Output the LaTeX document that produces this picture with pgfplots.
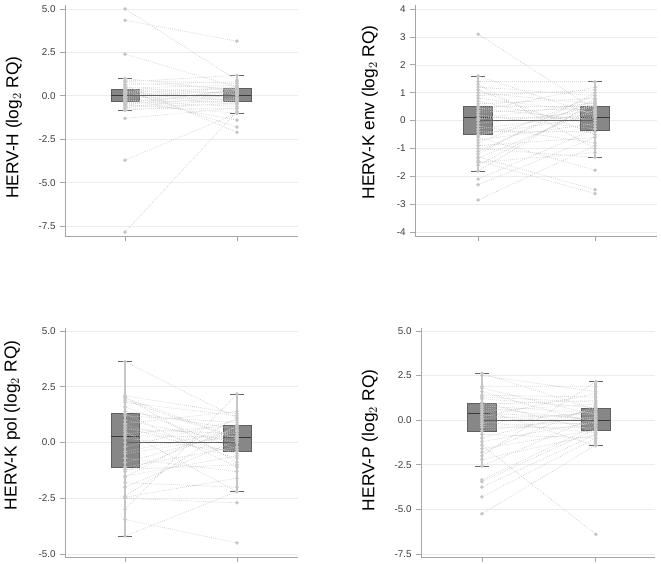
\documentclass[border=0pt]{standalone}
\usepackage{fontspec}
\setmainfont{Liberation Sans}
\usepackage{pgfplots}
\pgfplotsset{compat=1.18}
\usepgfplotslibrary{statistics}
\definecolor{boxfill}{HTML}{878787}
\definecolor{boxedge}{HTML}{5F5F5F}
\definecolor{medcol}{HTML}{3A3A3A}
\definecolor{capcol}{HTML}{666666}
\definecolor{whisk}{HTML}{C6C6C6}
\definecolor{ptcol}{HTML}{C2C2C2}
\definecolor{lncol}{HTML}{C8C8C8}
\definecolor{gridcol}{HTML}{ECECEC}
\definecolor{axcol}{HTML}{A6A6A6}
\definecolor{tickcol}{HTML}{3C3C3C}
\pgfplotsset{
  hervaxis/.style={
    scale only axis,
    axis x line*=bottom, axis y line*=left,
    axis line style={draw=axcol, line width=0.6pt},
    xtick={0,1}, xticklabels={,,},
    tick style={draw=axcol, line width=0.6pt},
    major tick length=3.5pt, tick align=outside,
    ymajorgrids, grid style={draw=gridcol, line width=0.5pt},
    yticklabel style={font=\fontsize{7.4}{8}\selectfont, text=tickcol},
    ylabel style={font=\fontsize{13}{15}\selectfont, anchor=center},
    /pgf/number format/assume math mode=true,
    clip=false,
    boxplot/draw direction=y,
    boxplot/every box/.style={fill=boxfill, draw=boxedge, line width=0.5pt},
    boxplot/every whisker/.style={draw=capcol, line width=0.6pt},
    boxplot/every median/.style={draw=medcol, line width=0.7pt},
  },
  onedec/.style={yticklabel style={/pgf/number format/.cd, fixed, fixed zerofill, precision=1}},
  wline/.style={draw=whisk, line width=2pt},
  pairs/.style={draw=lncol, densely dotted, line width=0.5pt, unbounded coords=jump,
    mark=*, mark size=1.1pt, mark options={solid, fill=ptcol, draw=none}},
  zline/.style={draw=medcol!80, line width=0.5pt},
}
\begin{document}
\begin{tikzpicture}
\useasboundingbox (0,0) rectangle (495.75pt,423pt);
% ---------------- Panel 1: HERV-H
\begin{axis}[hervaxis, onedec, at={(48.75pt,246pt)}, anchor=south west,
  width=174.75pt, height=172.9pt, xmin=-0.536, xmax=1.545, ymin=-8.07, ymax=5.2,
  ytick={-7.5,-5,-2.5,0,2.5,5},
  ylabel={HERV-H (log$_2$ RQ)}, ylabel style={at={(axis description cs:-0.219,0.47)}}]
\addplot[boxplot prepared={draw position=0, lower whisker=-0.84, lower quartile=-0.3, median=0, upper quartile=0.37, upper whisker=1.0, box extend=0.25, whisker extend=0.12}] coordinates {};
\addplot[boxplot prepared={draw position=1, lower whisker=-1.0, lower quartile=-0.3, median=0, upper quartile=0.43, upper whisker=1.18, box extend=0.25, whisker extend=0.12}] coordinates {};
\addplot[wline] coordinates {(0,-0.84) (0,1.0)};
\addplot[wline] coordinates {(1,-1.0) (1,1.18)};
\addplot[pairs] coordinates {
(0,5.0) (1,0.9) (0,nan)
(0,4.35) (1,3.15) (0,nan)
(0,2.4) (1,0.5) (0,nan)
(0,-1.3) (1,-0.7) (0,nan)
(0,-3.7) (1,-1.0) (0,nan)
(0,-7.85) (1,-0.9) (0,nan)
(0,0.3) (1,-1.8) (0,nan)
(0,0.6) (1,-2.1) (0,nan)
(0,-0.2) (1,-1.4) (0,nan)
(0,1.0) (1,0.3) (0,nan)
(0,-0.84) (1,-0.4) (0,nan)
(0,0.8) (1,1.18) (0,nan)
(0,-0.5) (1,-1.0) (0,nan)
(0,0.9) (1,0.7) (0,nan)
(0,0.75) (1,0.4) (0,nan)
(0,0.65) (1,0.8) (0,nan)
(0,0.5) (1,0.1) (0,nan)
(0,0.45) (1,0.6) (0,nan)
(0,0.4) (1,-0.3) (0,nan)
(0,0.35) (1,0.35) (0,nan)
(0,0.25) (1,0.2) (0,nan)
(0,0.2) (1,-0.1) (0,nan)
(0,0.15) (1,0.5) (0,nan)
(0,0.1) (1,0.0) (0,nan)
(0,0.05) (1,-0.5) (0,nan)
(0,0.0) (1,0.25) (0,nan)
(0,-0.05) (1,0.45) (0,nan)
(0,-0.1) (1,-0.2) (0,nan)
(0,-0.15) (1,0.15) (0,nan)
(0,-0.25) (1,-0.35) (0,nan)
(0,-0.3) (1,0.05) (0,nan)
(0,-0.35) (1,-0.6) (0,nan)
(0,-0.4) (1,0.3) (0,nan)
(0,-0.45) (1,-0.15) (0,nan)
(0,-0.55) (1,0.4) (0,nan)
(0,-0.6) (1,-0.25) (0,nan)
(0,-0.7) (1,0.1) (0,nan)
(0,-0.75) (1,-0.75) (0,nan)
(0,-0.65) (1,-0.45) (0,nan)
};
\addplot[zline] coordinates {(0,0) (1,0)};
\end{axis}
% ---------------- Panel 2: HERV-K env
\begin{axis}[hervaxis, at={(311.25pt,246pt)}, anchor=south west,
  width=181.5pt, height=173.3pt, xmin=-0.54, xmax=1.53, ymin=-4.14, ymax=4.15,
  ytick={-4,-3,-2,-1,0,1,2,3,4},
  ylabel={HERV-K env (log$_2$ RQ)}, ylabel style={at={(axis description cs:-0.186,0.535)}}]
\addplot[boxplot prepared={draw position=0, lower whisker=-1.81, lower quartile=-0.5, median=0.11, upper quartile=0.52, upper whisker=1.6, box extend=0.25, whisker extend=0.12}] coordinates {};
\addplot[boxplot prepared={draw position=1, lower whisker=-1.32, lower quartile=-0.34, median=0.11, upper quartile=0.5, upper whisker=1.39, box extend=0.25, whisker extend=0.12}] coordinates {};
\addplot[wline] coordinates {(0,-1.81) (0,1.6)};
\addplot[wline] coordinates {(1,-1.32) (1,1.39)};
\addplot[pairs] coordinates {
(0,3.1) (1,0.4) (0,nan)
(0,-2.85) (1,-0.9) (0,nan)
(0,-2.3) (1,-0.6) (0,nan)
(0,-2.1) (1,-0.3) (0,nan)
(0,-1.3) (1,-2.48) (0,nan)
(0,-1.45) (1,-2.62) (0,nan)
(0,-0.6) (1,-1.78) (0,nan)
(0,1.6) (1,0.2) (0,nan)
(0,-1.81) (1,0.7) (0,nan)
(0,1.4) (1,1.39) (0,nan)
(0,-1.0) (1,-1.32) (0,nan)
(0,1.3) (1,-1.0) (0,nan)
(0,1.2) (1,0.9) (0,nan)
(0,1.1) (1,-0.5) (0,nan)
(0,1.0) (1,0.6) (0,nan)
(0,0.9) (1,1.1) (0,nan)
(0,0.8) (1,0.3) (0,nan)
(0,0.7) (1,-0.2) (0,nan)
(0,0.6) (1,0.8) (0,nan)
(0,0.52) (1,0.5) (0,nan)
(0,0.45) (1,0.0) (0,nan)
(0,0.35) (1,1.2) (0,nan)
(0,0.3) (1,0.45) (0,nan)
(0,0.2) (1,-0.3) (0,nan)
(0,0.1) (1,0.1) (0,nan)
(0,0.05) (1,0.65) (0,nan)
(0,0.0) (1,0.0) (0,nan)
(0,-0.1) (1,0.35) (0,nan)
(0,-0.2) (1,-0.8) (0,nan)
(0,-0.3) (1,0.25) (0,nan)
(0,-0.4) (1,-0.4) (0,nan)
(0,-0.5) (1,0.15) (0,nan)
(0,-0.55) (1,0.55) (0,nan)
(0,-0.7) (1,-0.1) (0,nan)
(0,-0.8) (1,0.9) (0,nan)
(0,-0.9) (1,-0.6) (0,nan)
(0,-1.1) (1,0.75) (0,nan)
(0,-1.2) (1,1.0) (0,nan)
(0,-1.35) (1,0.4) (0,nan)
(0,-1.5) (1,-1.15) (0,nan)
(0,-1.6) (1,0.6) (0,nan)
};
\addplot[zline] coordinates {(0,0) (1,0)};
\end{axis}
% ---------------- Panel 3: HERV-K pol
\begin{axis}[hervaxis, onedec, at={(48.75pt,5.25pt)}, anchor=south west,
  width=174.75pt, height=172pt, xmin=-0.536, xmax=1.545, ymin=-5.13, ymax=5.15,
  ytick={-5,-2.5,0,2.5,5},
  ylabel={HERV-K pol (log$_2$ RQ)}, ylabel style={at={(axis description cs:-0.227,0.574)}}]
\addplot[boxplot prepared={draw position=0, lower whisker=-4.19, lower quartile=-1.1, median=0.26, upper quartile=1.31, upper whisker=3.62, box extend=0.25, whisker extend=0.12}] coordinates {};
\addplot[boxplot prepared={draw position=1, lower whisker=-2.2, lower quartile=-0.41, median=0.23, upper quartile=0.78, upper whisker=2.18, box extend=0.25, whisker extend=0.12}] coordinates {};
\addplot[wline] coordinates {(0,-4.19) (0,3.62)};
\addplot[wline] coordinates {(1,-2.2) (1,2.18)};
\addplot[pairs] coordinates {
(0,3.62) (1,1.1) (0,nan)
(0,-4.19) (1,-2.2) (0,nan)
(0,-3.45) (1,-4.5) (0,nan)
(0,-3.0) (1,2.18) (0,nan)
(0,-2.5) (1,-2.7) (0,nan)
(0,-2.4) (1,0.8) (0,nan)
(0,-2.45) (1,-1.6) (0,nan)
(0,2.1) (1,1.3) (0,nan)
(0,2.05) (1,-0.9) (0,nan)
(0,2.0) (1,0.2) (0,nan)
(0,1.8) (1,1.2) (0,nan)
(0,1.6) (1,-0.3) (0,nan)
(0,1.4) (1,0.6) (0,nan)
(0,1.3) (1,-1.1) (0,nan)
(0,1.2) (1,0.9) (0,nan)
(0,1.0) (1,0.0) (0,nan)
(0,0.85) (1,1.4) (0,nan)
(0,0.8) (1,-0.5) (0,nan)
(0,0.6) (1,0.4) (0,nan)
(0,0.5) (1,-2.2) (0,nan)
(0,0.4) (1,0.75) (0,nan)
(0,0.3) (1,0.25) (0,nan)
(0,0.2) (1,-0.4) (0,nan)
(0,0.0) (1,0.0) (0,nan)
(0,-0.2) (1,1.0) (0,nan)
(0,-0.5) (1,0.3) (0,nan)
(0,-0.7) (1,-1.3) (0,nan)
(0,-0.9) (1,0.5) (0,nan)
(0,-1.1) (1,-0.2) (0,nan)
(0,-1.3) (1,0.7) (0,nan)
(0,-1.5) (1,-0.6) (0,nan)
(0,-1.55) (1,1.1) (0,nan)
(0,-1.8) (1,-2.0) (0,nan)
(0,-2.0) (1,0.1) (0,nan)
(0,-1.2) (1,-1.0) (0,nan)
(0,-0.4) (1,0.55) (0,nan)
(0,0.7) (1,-0.7) (0,nan)
(0,1.9) (1,0.15) (0,nan)
};
\addplot[zline] coordinates {(0,0) (1,0)};
\end{axis}
% ---------------- Panel 4: HERV-P
\begin{axis}[hervaxis, onedec, at={(315.75pt,5.25pt)}, anchor=south west,
  width=175.5pt, height=171.5pt, xmin=-0.535, xmax=1.52, ymin=-7.67, ymax=5.15,
  ytick={-7.5,-5,-2.5,0,2.5,5},
  ylabel={HERV-P (log$_2$ RQ)}, ylabel style={at={(axis description cs:-0.218,0.51)}}]
\addplot[boxplot prepared={draw position=0, lower whisker=-2.57, lower quartile=-0.62, median=0.39, upper quartile=0.95, upper whisker=2.63, box extend=0.25, whisker extend=0.12}] coordinates {};
\addplot[boxplot prepared={draw position=1, lower whisker=-1.43, lower quartile=-0.55, median=0.01, upper quartile=0.67, upper whisker=2.16, box extend=0.25, whisker extend=0.12}] coordinates {};
\addplot[wline] coordinates {(0,-2.57) (0,2.63)};
\addplot[wline] coordinates {(1,-1.43) (1,2.16)};
\addplot[pairs] coordinates {
(0,2.63) (1,0.6) (0,nan)
(0,2.5) (1,1.6) (0,nan)
(0,-2.57) (1,0.2) (0,nan)
(0,-1.4) (1,-6.4) (0,nan)
(0,-5.25) (1,-1.4) (0,nan)
(0,-4.3) (1,-1.0) (0,nan)
(0,-3.75) (1,-0.8) (0,nan)
(0,-3.45) (1,-0.5) (0,nan)
(0,-3.35) (1,-0.3) (0,nan)
(0,-2.0) (1,2.16) (0,nan)
(0,1.9) (1,1.9) (0,nan)
(0,1.8) (1,0.3) (0,nan)
(0,1.6) (1,-0.2) (0,nan)
(0,1.4) (1,1.3) (0,nan)
(0,1.2) (1,0.7) (0,nan)
(0,1.0) (1,-0.6) (0,nan)
(0,0.9) (1,1.1) (0,nan)
(0,0.8) (1,0.4) (0,nan)
(0,0.7) (1,0.0) (0,nan)
(0,0.6) (1,-1.43) (0,nan)
(0,0.5) (1,0.9) (0,nan)
(0,0.4) (1,0.1) (0,nan)
(0,0.3) (1,-0.3) (0,nan)
(0,0.2) (1,1.5) (0,nan)
(0,0.0) (1,0.0) (0,nan)
(0,-0.2) (1,0.5) (0,nan)
(0,-0.4) (1,-0.4) (0,nan)
(0,-0.6) (1,0.2) (0,nan)
(0,-0.8) (1,-1.0) (0,nan)
(0,-1.0) (1,0.65) (0,nan)
(0,-1.2) (1,-0.1) (0,nan)
(0,-1.6) (1,-0.55) (0,nan)
(0,-1.8) (1,0.8) (0,nan)
(0,-2.2) (1,-0.8) (0,nan)
(0,-0.3) (1,-0.15) (0,nan)
(0,0.1) (1,0.35) (0,nan)
(0,1.3) (1,1.0) (0,nan)
(0,-0.1) (1,-0.7) (0,nan)
};
\addplot[zline] coordinates {(0,0) (1,0)};
\end{axis}
\end{tikzpicture}
\end{document}
